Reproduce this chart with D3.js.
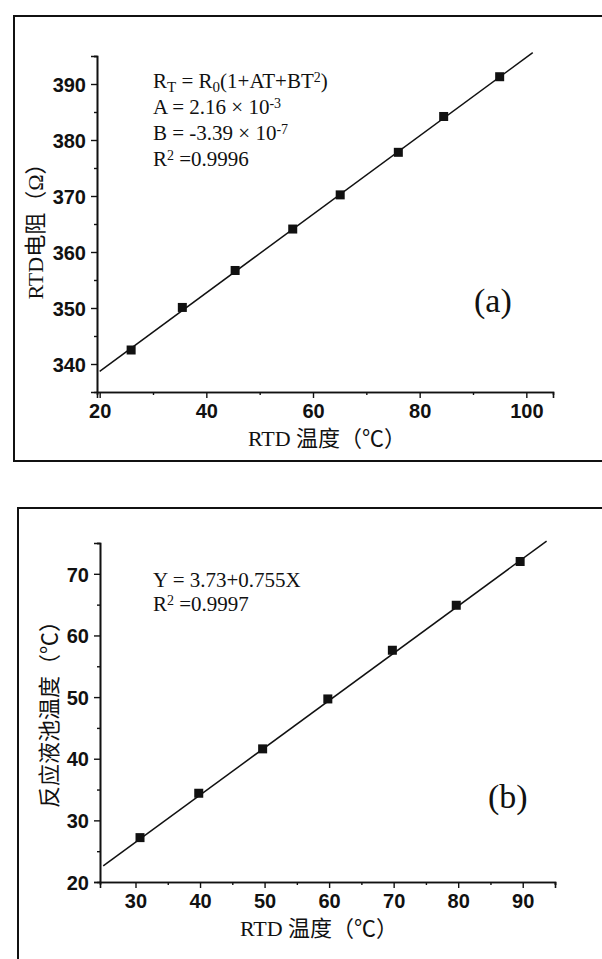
<!DOCTYPE html>
<html>
<head>
<meta charset="utf-8">
<script src="https://cdn.jsdelivr.net/npm/d3@7"></script>
<style>
  body { margin: 0; background: #fff; }
  .tick text { font-family: "Liberation Sans", Arial, sans-serif; font-weight: bold; font-size: 20px; fill: #111; }
  .serif { font-family: "Liberation Serif", "Times New Roman", "Noto Sans CJK SC", serif; fill: #111; }
</style>
</head>
<body>
<div id="chart"></div>
<script>
// panel (a): RTD resistance vs RTD temperature
var tempA = [25.9, 35.5, 45.4, 56.2, 65.1, 76.0, 84.5, 95.0]
var resA = [342.5, 350.1, 356.7, 364.1, 370.2, 377.8, 384.2, 391.3]
var fitAx = [20, 101.2]
var fitAy = [338.7, 395.6]
var ticksAx = [20, 40, 60, 80, 100]
var minorAx = [30, 50, 70, 90]
var ticksAy = [340, 350, 360, 370, 380, 390]
var minorAy = [345, 355, 365, 375, 385, 395]

// panel (b): cell temperature vs RTD temperature
var tempB = [30.7, 39.8, 49.7, 59.8, 69.8, 79.7, 89.6]
var cellB = [27.2, 34.4, 41.6, 49.7, 57.6, 64.9, 72.0]
var fitBx = [25, 93.7]
var fitBy = [22.6, 75.3]
var ticksBx = [30, 40, 50, 60, 70, 80, 90]
var minorBx = [35, 45, 55, 65, 75, 85, 95]
var ticksBy = [20, 30, 40, 50, 60, 70]
var minorBy = [25, 35, 45, 55, 65, 75]

var svg = d3.select('#chart').append('svg')
  .attr('width', 602)
  .attr('height', 959)

// outer frames
svg.append('rect').attr('x', 14).attr('y', 16).attr('width', 620).attr('height', 445)
  .attr('fill', 'none').attr('stroke', '#111').attr('stroke-width', 2)
svg.append('rect').attr('x', 18).attr('y', 508).attr('width', 620).attr('height', 480)
  .attr('fill', 'none').attr('stroke', '#111').attr('stroke-width', 2)

function panel(opt) {
  var x = d3.scaleLinear().domain(opt.xdom).range([opt.left, opt.right])
  var y = d3.scaleLinear().domain(opt.ydom).range([opt.bottom, opt.top])

  var xa = svg.append('g').attr('transform', 'translate(0,' + opt.bottom + ')')
    .call(d3.axisBottom(x).tickValues(opt.xt).tickSize(6).tickPadding(3).tickFormat(d3.format('d')))
  var xm = svg.append('g').attr('transform', 'translate(0,' + opt.bottom + ')')
    .call(d3.axisBottom(x).tickValues(opt.xm).tickSize(3).tickFormat(''))
  var ya = svg.append('g').attr('transform', 'translate(' + opt.left + ',0)')
    .call(d3.axisLeft(y).tickValues(opt.yt).tickSize(6).tickPadding(5).tickFormat(d3.format('d')))
  var ym = svg.append('g').attr('transform', 'translate(' + opt.left + ',0)')
    .call(d3.axisLeft(y).tickValues(opt.ym).tickSize(3).tickFormat(''))
  ;[xa, xm, ya, ym].forEach(function(g){
    g.selectAll('.domain').attr('stroke', '#111').attr('stroke-width', 1.6)
    g.selectAll('.tick line').attr('stroke', '#111').attr('stroke-width', 1.4)
  })
  xa.selectAll('.tick text').attr('dy', '0.85em')
  ya.selectAll('.tick text').attr('dy', '0.36em')

  // fit line
  svg.append('path')
    .datum(d3.zip(opt.fx, opt.fy))
    .attr('d', d3.line().x(function(d){ return x(d[0]) }).y(function(d){ return y(d[1]) }))
    .attr('fill', 'none').attr('stroke', '#111').attr('stroke-width', 1.5)

  // data squares
  svg.selectAll(null).data(d3.zip(opt.px, opt.py)).enter().append('rect')
    .attr('x', function(d){ return x(d[0]) - 4.5 })
    .attr('y', function(d){ return y(d[1]) - 4.5 })
    .attr('width', 9).attr('height', 9)
    .attr('fill', '#111')

  // axis titles
  svg.append('text').attr('class', 'serif')
    .attr('x', opt.xtitle[0]).attr('y', opt.xtitle[1])
    .attr('text-anchor', 'middle').style('font-size', '22px')
    .text('RTD 温度（℃）')
  svg.append('text').attr('class', 'serif')
    .attr('transform', 'translate(' + opt.ytitle[0] + ',' + opt.ytitle[1] + ') rotate(-90)')
    .attr('text-anchor', 'middle').style('font-size', '22px')
    .text(opt.ylabel)

  // panel letter
  svg.append('text').attr('class', 'serif')
    .attr('x', opt.letter[0]).attr('y', opt.letter[1])
    .style('font-size', '34px')
    .text(opt.letter[2])
}

panel({
  xdom: [19.5, 105], ydom: [335, 395],
  left: 97, right: 553, top: 56, bottom: 392,
  xt: ticksAx, xm: minorAx, yt: ticksAy, ym: minorAy,
  fx: fitAx, fy: fitAy, px: tempA, py: resA,
  xtitle: [327, 446], ytitle: [43, 226], ylabel: 'RTD电阻（Ω）',
  letter: [474, 312, '(a)']
})

panel({
  xdom: [24.5, 95], ydom: [20, 75],
  left: 100, right: 555, top: 543, bottom: 882,
  xt: ticksBx, xm: minorBx, yt: ticksBy, ym: minorBy,
  fx: fitBx, fy: fitBy, px: tempB, py: cellB,
  xtitle: [319, 936], ytitle: [57, 709], ylabel: '反应液池温度（℃）',
  letter: [488, 808, '(b)']
})

// equation annotations
function eq(x, y, parts) {
  var t = svg.append('text').attr('class', 'serif')
    .attr('x', x).attr('y', y).style('font-size', '21px')
  parts.forEach(function(p){
    var s = t.append('tspan').text(p[0])
    if (p[1] == 'sub') s.attr('baseline-shift', '-25%').style('font-size', '15px')
    if (p[1] == 'sup') s.attr('baseline-shift', '40%').style('font-size', '14px')
  })
}

eq(153, 88, [['R'], ['T', 'sub'], [' = R'], ['0', 'sub'], ['(1+AT+BT'], ['2', 'sup'], [')']])
eq(153, 114, [['A = 2.16 × 10'], ['-3', 'sup']])
eq(153, 140, [['B = -3.39 × 10'], ['-7', 'sup']])
eq(153, 166, [['R'], ['2', 'sup'], [' =0.9996']])

eq(153, 587, [['Y = 3.73+0.755X']])
eq(153, 611, [['R'], ['2', 'sup'], [' =0.9997']])
</script>
</body>
</html>
